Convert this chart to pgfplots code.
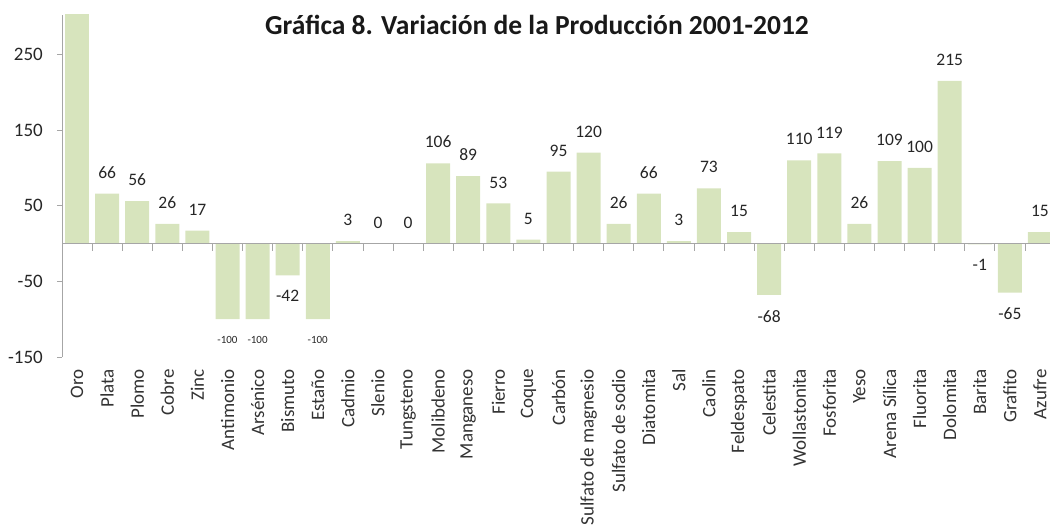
\documentclass[border=0pt]{standalone}
\usepackage{fontspec}
\setmainfont{Carlito}
\usepackage{pgfplots}
\pgfplotsset{compat=1.18}
\definecolor{barg}{HTML}{D7E4BD}
\definecolor{axg}{HTML}{A6A6A6}
\begin{document}
\begin{tikzpicture}[x=1pt,y=1pt]
\begin{axis}[
  at={(62pt,170pt)}, anchor=south west,
  width=993pt, height=342pt, scale only axis,
  xmin=-0.5, xmax=32.5, ymin=-150, ymax=302,
  axis y line=left, axis x line=bottom,
  x axis line style={draw=none},
  y axis line style={draw=axg, line width=0.8pt, -},
  ytick={-150,-50,50,150,250},
  ytick style={draw=axg, line width=0.8pt},
  tick align=outside, major tick length=5pt,
  xtick={0,...,32},
  xtick style={draw=none},
  xticklabels={Oro,Plata,Plomo,Cobre,Zinc,Antimonio,Arsénico,Bismuto,Estaño,Cadmio,Slenio,Tungsteno,Molibdeno,Manganeso,Fierro,Coque,Carbón,Sulfato de magnesio,Sulfato de sodio,Diatomita,Sal,Caolin,Feldespato,Celestita,Wollastonita,Fosforita,Yeso,Arena Sílica,Fluorita,Dolomita,Barita,Grafito,Azufre},
  xticklabel style={rotate=90, anchor=east, inner xsep=7pt, inner ysep=0pt, font=\fontsize{19}{19}\selectfont, text=black!80},
  yticklabel style={anchor=east, inner sep=0pt, xshift=-14pt, font=\fontsize{19}{19}\selectfont, text=black!85},
  /pgf/number format/assume math mode=true,
  ybar, bar width=24pt, bar shift=0pt,
  nodes near coords align={vertical},
]
% Oro (exceeds the top of the axis, no label)
\addplot[fill=barg, draw=none] coordinates {(0,320)};
% main series
\addplot[fill=barg, draw=none, nodes near coords,
  every node near coord/.append style={font=\fontsize{17.5}{17.5}\selectfont, text=black!85, inner ysep=15pt}]
  coordinates {(1,66) (2,56) (3,26) (4,17) (7,-42) (9,3) (10,0) (11,0) (12,106) (13,89) (14,53) (15,5) (16,95) (17,120) (18,26) (19,66) (20,3) (21,73) (22,15) (23,-68) (24,110) (25,119) (26,26) (27,109) (28,100) (29,215) (30,-1) (31,-65) (32,15)};
% -100 bars, small labels
\addplot[fill=barg, draw=none, nodes near coords,
  every node near coord/.append style={font=\fontsize{11}{11}\selectfont, text=black!85, inner ysep=17pt}]
  coordinates {(5,-100) (6,-100) (8,-100)};
\draw[axg, line width=0.8pt] (axis cs:-0.5,0) -- (axis cs:32.5,0);
\pgfplotsinvokeforeach{0,...,31}{\draw[axg, line width=0.8pt] (axis cs:#1.5,0) -- (axis cs:#1.5,-9.5);}
\end{axis}
\node[font=\bfseries\fontsize{27.5}{27.5}\selectfont, text=black!90] at (537pt,502pt) {Gráfica 8. Variación de la Producción 2001-2012};
\pgfresetboundingbox
\path (0,0) rectangle (1050pt,527pt);
\end{tikzpicture}
\end{document}
